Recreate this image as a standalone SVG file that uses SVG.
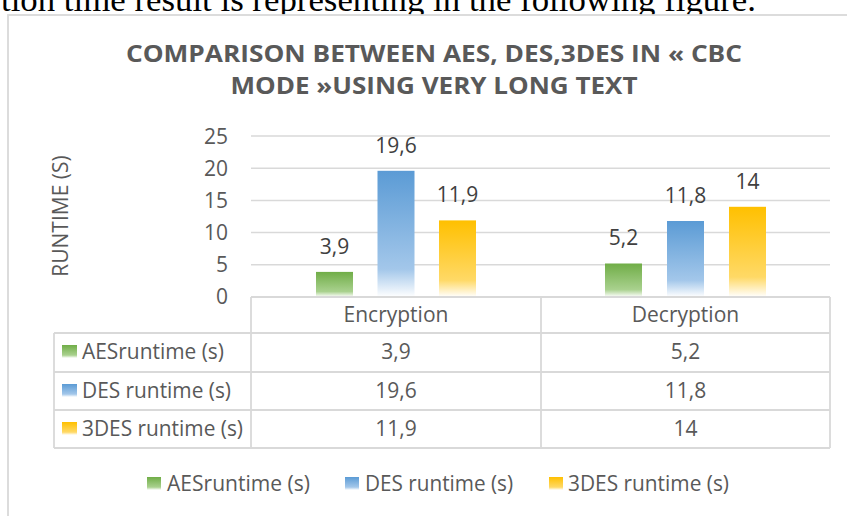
<svg xmlns="http://www.w3.org/2000/svg" width="847" height="516" viewBox="0 0 847 516">
<style>
  .t { font-family: "Open Sans", "Liberation Sans", sans-serif; font-size: 21px; fill: #595959; }
  .lbl { font-family: "Open Sans", "Liberation Sans", sans-serif; font-size: 21px; fill: #404040; text-anchor: middle; }
  .tick { font-family: "Open Sans", "Liberation Sans", sans-serif; font-size: 21px; fill: #595959; text-anchor: end; }
  .ttl { font-family: "Open Sans", "Liberation Sans", sans-serif; font-size: 23px; font-weight: bold; fill: #595959; text-anchor: middle; }
  .c { text-anchor: middle; }
  .grid { stroke: #d9d9d9; stroke-width: 1.5; fill: none; }
  .tb { stroke: #d9d9d9; stroke-width: 1.8; fill: none; }
</style>
<defs>
  <linearGradient id="gG" x1="0" y1="0" x2="0" y2="1">
    <stop offset="0" stop-color="#70AD47"/>
    <stop offset="0.78" stop-color="#A9D18E"/>
    <stop offset="1" stop-color="#FFFFFF"/>
  </linearGradient>
  <linearGradient id="gB" x1="0" y1="0" x2="0" y2="1">
    <stop offset="0" stop-color="#5B9BD5"/>
    <stop offset="0.78" stop-color="#A3C7EA"/>
    <stop offset="1" stop-color="#FFFFFF"/>
  </linearGradient>
  <linearGradient id="gY" x1="0" y1="0" x2="0" y2="1">
    <stop offset="0" stop-color="#FFC000"/>
    <stop offset="0.78" stop-color="#FFD966"/>
    <stop offset="1" stop-color="#FFFFFF"/>
  </linearGradient>
</defs>
<rect x="0" y="0" width="847" height="516" fill="#ffffff"/>
<g id="caption">
  <text x="1" y="11" font-family="'Liberation Serif', 'DejaVu Serif', serif" font-size="34" fill="#000000" textLength="755" lengthAdjust="spacingAndGlyphs">tion time result is representing in the following figure.</text>
</g>
<g id="frame">
  <rect x="8" y="15" width="900" height="600" fill="#ffffff" stroke="#d9d9d9" stroke-width="1.8"/>
</g>
<g id="title">
  <text class="ttl" x="434" y="62" textLength="616" lengthAdjust="spacingAndGlyphs">COMPARISON BETWEEN AES, DES,3DES IN « CBC</text>
  <text class="ttl" x="434" y="94" textLength="407" lengthAdjust="spacingAndGlyphs">MODE »USING VERY LONG TEXT</text>
</g>
<g id="y-axis">
  <text class="t c" transform="translate(68,216) rotate(-90)">RUNTIME (S)</text>
  <line class="grid" x1="251" y1="136" x2="830" y2="136"/>
  <line class="grid" x1="251" y1="168.2" x2="830" y2="168.2"/>
  <line class="grid" x1="251" y1="200.4" x2="830" y2="200.4"/>
  <line class="grid" x1="251" y1="232.6" x2="830" y2="232.6"/>
  <line class="grid" x1="251" y1="264.8" x2="830" y2="264.8"/>
  <text class="tick" x="228" y="143.5">25</text>
  <text class="tick" x="228" y="175.7">20</text>
  <text class="tick" x="228" y="207.9">15</text>
  <text class="tick" x="228" y="240.1">10</text>
  <text class="tick" x="228" y="272.3">5</text>
  <text class="tick" x="228" y="303.5">0</text>
</g>
<g id="bars">
  <rect x="316" y="271.9" width="37" height="25.1" fill="url(#gG)"/>
  <rect x="377.5" y="170.8" width="37" height="126.2" fill="url(#gB)"/>
  <rect x="439" y="220.4" width="37" height="76.6" fill="url(#gY)"/>
  <rect x="605" y="263.5" width="37" height="33.5" fill="url(#gG)"/>
  <rect x="667" y="221" width="37" height="76" fill="url(#gB)"/>
  <rect x="729" y="206.8" width="37" height="90.2" fill="url(#gY)"/>
  <text class="lbl" x="334.5" y="253.5">3,9</text>
  <text class="lbl" x="396" y="152.5">19,6</text>
  <text class="lbl" x="457.5" y="202">11,9</text>
  <text class="lbl" x="623.5" y="245">5,2</text>
  <text class="lbl" x="685.5" y="203">11,8</text>
  <text class="lbl" x="747.5" y="188.5">14</text>
</g>
<g id="table">
  <line class="tb" x1="251" y1="297" x2="830" y2="297"/>
  <line class="tb" x1="54" y1="333" x2="830" y2="333"/>
  <line class="tb" x1="54" y1="372" x2="830" y2="372"/>
  <line class="tb" x1="54" y1="410" x2="830" y2="410"/>
  <line class="tb" x1="54" y1="448" x2="830" y2="448"/>
  <line class="tb" x1="54" y1="333" x2="54" y2="448"/>
  <line class="tb" x1="251" y1="297" x2="251" y2="448"/>
  <line class="tb" x1="541" y1="297" x2="541" y2="448"/>
  <line class="tb" x1="830" y1="297" x2="830" y2="448"/>
  <text class="t c" x="396" y="322">Encryption</text>
  <text class="t c" x="685.5" y="322">Decryption</text>
  <rect x="62" y="345" width="15" height="13" fill="url(#gG)"/>
  <rect x="62" y="384" width="15" height="13" fill="url(#gB)"/>
  <rect x="62" y="422" width="15" height="13" fill="url(#gY)"/>
  <text class="t" x="82" y="359" textLength="142" lengthAdjust="spacingAndGlyphs">AESruntime (s)</text>
  <text class="t" x="82" y="397.5" textLength="149" lengthAdjust="spacingAndGlyphs">DES runtime (s)</text>
  <text class="t" x="82" y="436" textLength="161" lengthAdjust="spacingAndGlyphs">3DES runtime (s)</text>
  <text class="t c" x="396" y="359">3,9</text>
  <text class="t c" x="685.5" y="359">5,2</text>
  <text class="t c" x="396" y="397.5">19,6</text>
  <text class="t c" x="685.5" y="397.5">11,8</text>
  <text class="t c" x="396" y="436">11,9</text>
  <text class="t c" x="685.5" y="436">14</text>
</g>
<g id="legend">
  <rect x="147" y="477" width="14" height="13" fill="url(#gG)"/>
  <text class="t" x="167" y="491" textLength="143" lengthAdjust="spacingAndGlyphs">AESruntime (s)</text>
  <rect x="345" y="477" width="14" height="13" fill="url(#gB)"/>
  <text class="t" x="365" y="491" textLength="148" lengthAdjust="spacingAndGlyphs">DES runtime (s)</text>
  <rect x="549" y="477" width="14" height="13" fill="url(#gY)"/>
  <text class="t" x="568" y="491" textLength="161" lengthAdjust="spacingAndGlyphs">3DES runtime (s)</text>
</g>
<g id="connectors"/>
</svg>
